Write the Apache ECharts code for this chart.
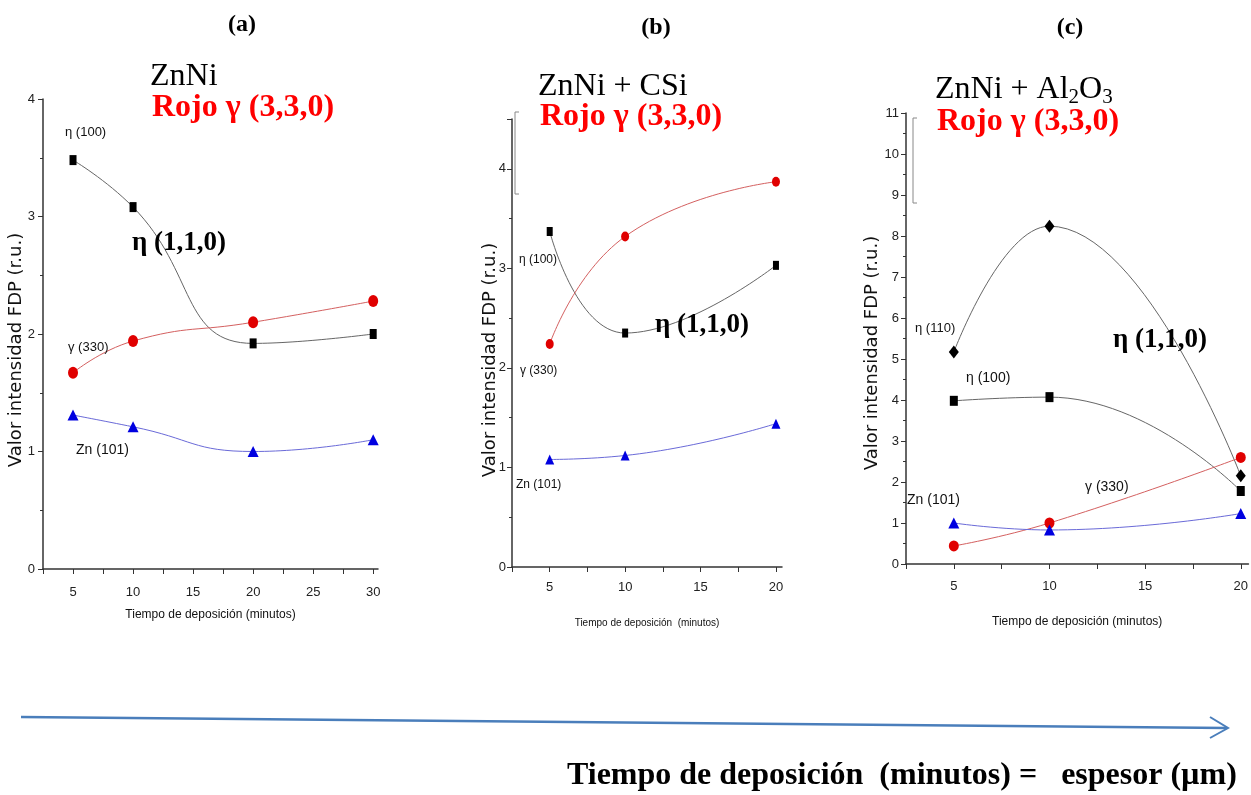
<!DOCTYPE html>
<html lang="es">
<head>
  <meta http-equiv="Content-Type" content="text/html; charset=UTF-8">
  <title>Intensidad FDP</title>
  <style>
    html, body { margin: 0; padding: 0; background: #fff; }
  </style>
</head>
<body>
  <div id="chart" style="width: 1251px; height: 795px;"></div>
  <script src="https://cdn.jsdelivr.net/npm/echarts@6/dist/echarts.min.js"></script>
  <script>
    // datos
    const xA = [5, 10, 20, 30];
    const aEta100 = [3.48, 3.08, 1.92, 2.0];
    const aGam330 = [1.67, 1.94, 2.10, 2.28];
    const aZn101 = [1.31, 1.21, 1.0, 1.10];

    const xB = [5, 10, 20];
    const bEta100 = [3.37, 2.35, 3.03];
    const bGam330 = [2.24, 3.32, 3.87];
    const bZn101 = [1.08, 1.12, 1.44];

    const xC = [5, 10, 20];
    const cEta110 = [5.17, 8.24, 2.15];
    const cEta100 = [3.98, 4.07, 1.78];
    const cGam330 = [0.44, 1.0, 2.6];
    const cZn101 = [1.0, 0.83, 1.23];

    const yTitle = 'Valor intensidad FDP (r.u.)';
    const xTitle = 'Tiempo de deposición (minutos)';

    const narrow = '"Liberation Sans Narrow", "Arial Narrow", "Liberation Sans", sans-serif';
    const serif = '"Liberation Serif", "Times New Roman", serif';
    const wide = '"DejaVu Sans", sans-serif';

    const zip = (xs, ys) => xs.map((x, i) => [x, ys[i]]);

    const eta = { color: '#000', line: '#666' };
    const gam = { color: '#e00000', line: '#d46060' };
    const zn = { color: '#0000e0', line: '#6a6ad8' };

    function line(name, idx, xs, ys, st, symbol, size) {
      return {
        name: name,
        type: 'line',
        xAxisIndex: idx,
        yAxisIndex: idx,
        smooth: 0.5,
        symbol: symbol,
        symbolSize: size,
        itemStyle: { color: st.color },
        lineStyle: { color: st.line, width: 1 },
        data: zip(xs, ys),
        z: 3
      };
    }

    const xAxisBase = (idx, max, margin, nameGap, nameSize) => ({
      type: 'value',
      gridIndex: idx,
      min: 2.5,
      max: max,
      interval: 2.5,
      name: idx === 1 ? 'Tiempo de deposición  (minutos)' : xTitle,
      nameLocation: 'middle',
      nameGap: nameGap,
      nameTextStyle: { fontFamily: narrow, fontSize: nameSize, color: '#111' },
      axisLine: { lineStyle: { color: '#333', width: 1.5 } },
      axisTick: { length: 5, lineStyle: { color: '#333' } },
      axisLabel: {
        fontFamily: narrow, fontSize: 13, color: '#222', margin: margin,
        showMaxLabel: false,
        formatter: v => (v % 5 === 0 ? String(v) : '')
      },
      splitLine: { show: false }
    });

    const yAxisBase = (idx, max, margin) => ({
      type: 'value',
      gridIndex: idx,
      min: 0,
      max: max,
      interval: 1,
      axisLine: { show: true, lineStyle: { color: '#333', width: 1.5 } },
      axisTick: { show: true, length: 5, lineStyle: { color: '#333' } },
      minorTick: { show: true, splitNumber: 2, length: 3, lineStyle: { color: '#333' } },
      axisLabel: { fontFamily: narrow, fontSize: 13, color: '#222', margin: margin, showMaxLabel: max % 1 === 0 },
      splitLine: { show: false }
    });

    function txt(x, y, text, size, opts) {
      opts = opts || {};
      return {
        type: 'text',
        x: x,
        y: y,
        rotation: opts.rot || 0,
        style: {
          text: text,
          fontSize: size,
          fontFamily: opts.font || narrow,
          fontWeight: opts.bold ? 'bold' : 'normal',
          fill: opts.color || '#111',
          align: opts.align || 'left',
          verticalAlign: 'middle',
          rich: opts.rich
        },
        z: 10
      };
    }

    const graphics = [
      // titulos de panel
      txt(242, 25, '(a)', 24, { font: serif, bold: true, align: 'center', color: '#000' }),
      txt(656, 28, '(b)', 24, { font: serif, bold: true, align: 'center', color: '#000' }),
      txt(1070, 28, '(c)', 24, { font: serif, bold: true, align: 'center', color: '#000' }),

      txt(150, 77, 'ZnNi', 32, { font: serif, color: '#000' }),
      txt(152, 108, 'Rojo γ (3,3,0)', 32, { font: serif, bold: true, color: '#ff0000' }),
      txt(538, 87, 'ZnNi + CSi', 32, { font: serif, color: '#000' }),
      txt(540, 117, 'Rojo γ (3,3,0)', 32, { font: serif, bold: true, color: '#ff0000' }),
      txt(935, 90, '{a|ZnNi + Al}{s|2}{a|O}{s|3}', 32, {
        font: serif, color: '#000',
        rich: {
          a: { fontFamily: serif, fontSize: 32, fill: '#000' },
          s: { fontFamily: serif, fontSize: 21, fill: '#000', padding: [14, 0, 0, 0] }
        }
      }),
      txt(937, 122, 'Rojo γ (3,3,0)', 32, { font: serif, bold: true, color: '#ff0000' }),

      txt(132, 243, 'η (1,1,0)', 27, { font: serif, bold: true, color: '#000' }),
      txt(655, 325, 'η (1,1,0)', 27, { font: serif, bold: true, color: '#000' }),
      txt(1113, 340, 'η (1,1,0)', 27, { font: serif, bold: true, color: '#000' }),

      // etiquetas de series
      txt(65, 132, 'η (100)', 13),
      txt(68, 347, 'γ (330)', 13),
      txt(76, 450, 'Zn (101)', 14),
      txt(519, 260, 'η (100)', 12),
      txt(520, 371, 'γ (330)', 12),
      txt(516, 485, 'Zn (101)', 12),
      txt(915, 328, 'η (110)', 13),
      txt(966, 378, 'η (100)', 14),
      txt(1085, 487, 'γ (330)', 14),
      txt(907, 500, 'Zn (101)', 14),

      // titulos del eje y
      txt(16, 350, yTitle, 18, { font: wide, align: 'center', rot: Math.PI / 2 }),
      txt(490, 360, yTitle, 18, { font: wide, align: 'center', rot: Math.PI / 2 }),
      txt(872, 353, yTitle, 18, { font: wide, align: 'center', rot: Math.PI / 2 }),

      // restos de leyenda
      {
        type: 'polyline', z: 5,
        shape: { points: [[519, 112], [515, 112], [515, 194], [519, 194]] },
        style: { stroke: '#888', lineWidth: 1, fill: null }
      },
      {
        type: 'polyline', z: 5,
        shape: { points: [[917, 118], [913, 118], [913, 203], [917, 203]] },
        style: { stroke: '#888', lineWidth: 1, fill: null }
      },

      // flecha inferior
      {
        type: 'line', z: 5,
        shape: { x1: 21, y1: 717, x2: 1227, y2: 728 },
        style: { stroke: '#4a7ebb', lineWidth: 2.5 }
      },
      {
        type: 'polyline', z: 5,
        shape: { points: [[1210, 717], [1228, 728], [1210, 738]] },
        style: { stroke: '#4a7ebb', lineWidth: 2, fill: null }
      },
      txt(567, 776, 'Tiempo de deposición  (minutos) =   espesor (µm)', 32, { font: serif, bold: true, color: '#000' })
    ];

    const myChart = echarts.init(document.getElementById('chart'));
    const option = {
      animation: false,
      backgroundColor: '#fff',
      grid: [
        { left: 43, top: 99, width: 335, height: 470 },
        { left: 512, top: 119, width: 270, height: 448 },
        { left: 906, top: 113, width: 344, height: 451 }
      ],
      xAxis: [
        xAxisBase(0, 30.4, 17, 40, 12),
        xAxisBase(1, 20.4, 14, 51, 10),
        xAxisBase(2, 20.4, 16, 52, 12)
      ],
      yAxis: [
        yAxisBase(0, 4, 8),
        yAxisBase(1, 4.5, 6),
        yAxisBase(2, 11, 7)
      ],
      series: [
        line('η (100)', 0, xA, aEta100, eta, 'rect', [7, 10]),
        line('γ (330)', 0, xA, aGam330, gam, 'circle', [10, 12]),
        line('Zn (101)', 0, xA, aZn101, zn, 'triangle', [11, 11]),

        line('η (100)', 1, xB, bEta100, eta, 'rect', [6, 9]),
        line('γ (330)', 1, xB, bGam330, gam, 'circle', [8, 10]),
        line('Zn (101)', 1, xB, bZn101, zn, 'triangle', [9, 10]),

        line('η (110)', 2, xC, cEta110, eta, 'diamond', [10, 13]),
        line('η (100)', 2, xC, cEta100, eta, 'rect', [8, 10]),
        line('γ (330)', 2, xC, cGam330, gam, 'circle', [10, 11]),
        line('Zn (101)', 2, xC, cZn101, zn, 'triangle', [11, 11])
      ],
      graphic: graphics
    };
    myChart.setOption(option);
  </script>
</body>
</html>
